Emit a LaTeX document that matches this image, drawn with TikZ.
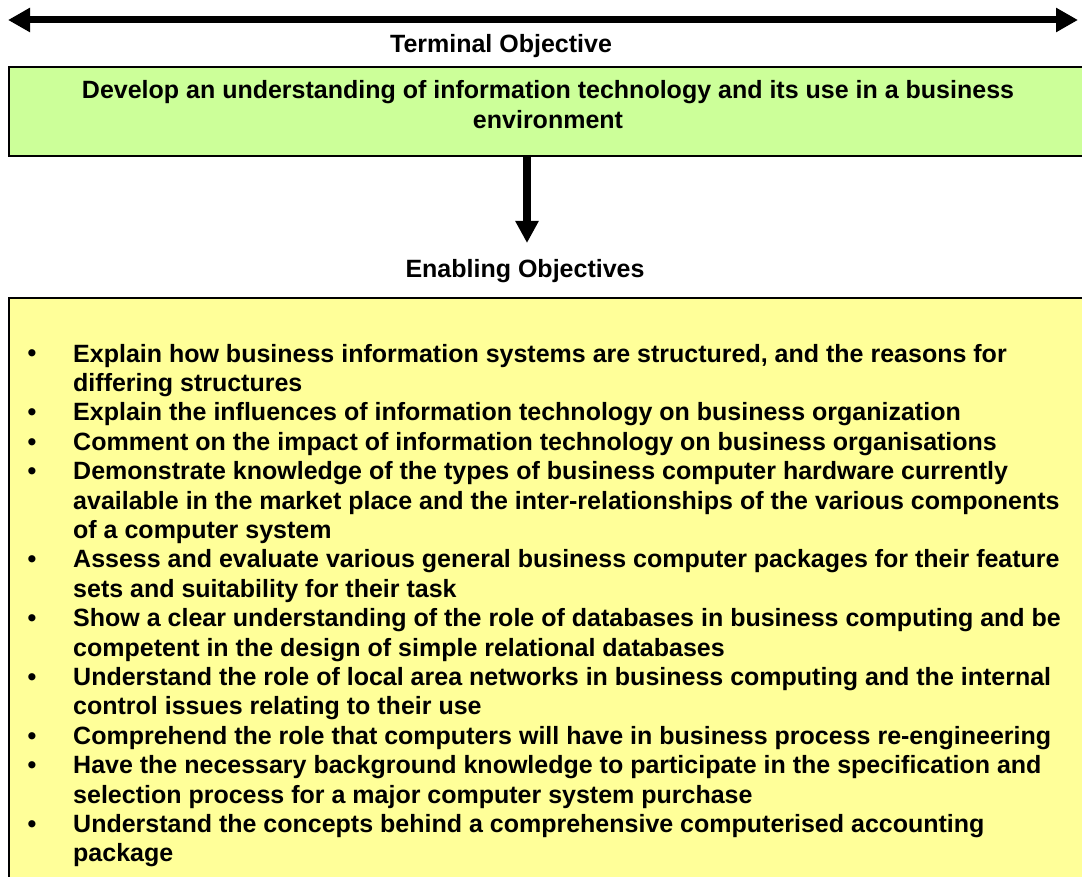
\documentclass[tikz,border=0pt]{standalone}
\usepackage{fontspec}
\setmainfont{Liberation Sans}
\usetikzlibrary{arrows.meta}
\definecolor{termgreen}{HTML}{CCFF99}
\definecolor{enabyellow}{HTML}{FFFF99}
\tikzset{
  boxline/.style={draw=black, line width=2pt},
  bigtext/.style={font=\bfseries\fontsize{25}{29.4}\selectfont, inner sep=0pt},
  itemtext/.style={bigtext, anchor=base west, align=left},
  bullettext/.style={bigtext, anchor=base},
  dblarrow/.style={line width=7pt, {Triangle[length=22pt,width=23pt]}-{Triangle[length=22pt,width=23pt]}}
}
\begin{document}
\begin{tikzpicture}[x=1pt,y=-1pt]
\useasboundingbox (0,0) rectangle (1082,877);
\clip (0,0) rectangle (1082,877);
% top double arrow
\coordinate (la) at (8,20);
\coordinate (ra) at (1078,20);
\draw[dblarrow] (la) -- (ra);
\node[bigtext, anchor=base] (term) at (501,53) {Terminal Objective};
% green box
\node[boxline, fill=termgreen, anchor=north west, minimum width=1082pt, minimum height=89pt, inner sep=0pt] (gbox) at (8,66) {};
% (base anchor of a multi-line node = baseline of its last line)
\node[bigtext, anchor=base, align=center] (gtext) at (548,128.4) {Develop an understanding of information technology and its use in a business\\environment};
% down arrow
\coordinate (dtop) at (527,155);
\coordinate (dtip) at (527,243);
\draw[line width=8pt, -{Triangle[length=22pt,width=22pt]}] (dtop) -- (dtip);
\node[bigtext, anchor=base] (enab) at (525,278) {Enabling Objectives};
% yellow box
\node[boxline, fill=enabyellow, anchor=north west, minimum width=1090pt, minimum height=600pt, inner sep=0pt] (ybox) at (8,297) {};
% bullets
\foreach \y [count=\i] in {362,420.8,450.2,479.6,567.8,626.6,685.4,744.2,773.6,832.4}
  \node[bullettext] (bul\i) at (32,\y) {•};
\node[itemtext] (it1) at (73,391.4) {Explain how business information systems are structured, and the reasons for\\differing structures};
\node[itemtext] (it2) at (73,420.8) {Explain the influences of information technology on business organization};
\node[itemtext] (it3) at (73,450.2) {Comment on the impact of information technology on business organisations};
\node[itemtext] (it4) at (73,538.4) {Demonstrate knowledge of the types of business computer hardware currently\\available in the market place and the inter-relationships of the various components\\of a computer system};
\node[itemtext] (it5) at (73,597.2) {Assess and evaluate various general business computer packages for their feature\\sets and suitability for their task};
\node[itemtext] (it6) at (73,656) {Show a clear understanding of the role of databases in business computing and be\\competent in the design of simple relational databases};
\node[itemtext] (it7) at (73,714.8) {Understand the role of local area networks in business computing and the internal\\control issues relating to their use};
\node[itemtext] (it8) at (73,744.2) {Comprehend the role that computers will have in business process re-engineering};
\node[itemtext] (it9) at (73,803) {Have the necessary background knowledge to participate in the specification and\\selection process for a major computer system purchase};
\node[itemtext] (it10) at (73,861.8) {Understand the concepts behind a comprehensive computerised accounting\\package};
\end{tikzpicture}
\end{document}
